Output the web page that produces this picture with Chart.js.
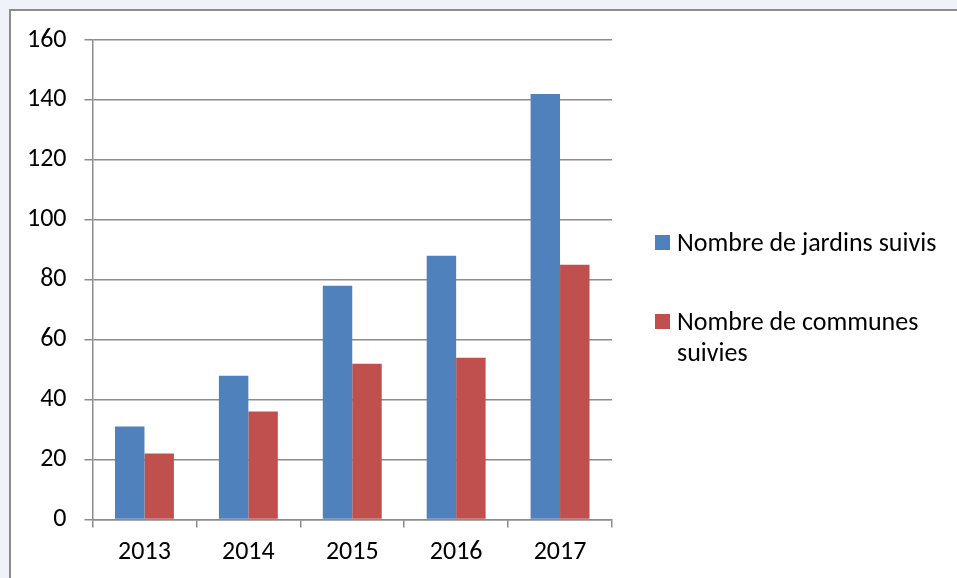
<!DOCTYPE html>
<html>
<head>
<meta charset="utf-8">
<script src="https://cdn.jsdelivr.net/npm/chart.js@4.4.1/dist/chart.umd.min.js"></script>
<style>
  html, body { margin: 0; padding: 0; width: 957px; height: 578px; overflow: hidden; background: #EFF3F9; }
  #frame { position: absolute; left: 9px; top: 9px; width: 960px; height: 580px; border: 2px solid #8c8c8c; background: #fff; }
  #wrap { position: absolute; left: 0; top: 0; width: 957px; height: 578px; }
  #legend { position: absolute; left: 655px; top: 0; font-family: Carlito, Lato, "Open Sans", sans-serif; font-size: 26px; color: #000; }
  .item { position: absolute; left: 0; white-space: nowrap; }
  .sw { position: absolute; left: 0; width: 15px; height: 15px; }
  .txt { position: absolute; left: 22px; line-height: 31px; width: 280px; white-space: normal; }
</style>
</head>
<body>
<div id="frame"></div>
<div id="wrap"><canvas id="c" width="957" height="578"></canvas></div>
<div id="legend"></div>
<script>
const categories = ["2013", "2014", "2015", "2016", "2017"];
const jardins = [31, 48, 78, 88, 142];
const communes = [22, 36, 52, 54, 85];
const seriesLabels = ["Nombre de jardins suivis", "Nombre de communes suivies"];
const seriesColors = ["#4F81BD", "#C0504D"];
const yTicks = [0, 20, 40, 60, 80, 100, 120, 140, 160];

const FONT = { family: "Carlito, Lato, 'Open Sans', sans-serif", size: 26 };
const GRID = "#8c8c8c";

const chart = new Chart(document.getElementById("c"), {
  type: "bar",
  data: {
    labels: categories,
    datasets: [
      { label: seriesLabels[0], data: jardins, backgroundColor: seriesColors[0], borderWidth: 0 },
      { label: seriesLabels[1], data: communes, backgroundColor: seriesColors[1], borderWidth: 0 }
    ]
  },
  options: {
    responsive: false,
    animation: false,
    layout: { padding: { left: 0, top: 40, right: 345, bottom: 0 } },
    plugins: { legend: { display: false }, tooltip: { enabled: false } },
    datasets: { bar: { barPercentage: 1, categoryPercentage: 0.567 } },
    scales: {
      x: {
        grid: { display: true, drawOnChartArea: false, drawTicks: true, tickLength: 8, color: GRID, lineWidth: 1.5, offset: true },
        border: { display: true, color: GRID, width: 1.5 },
        ticks: { color: "#000", font: FONT, padding: 9, maxRotation: 0 },
        afterFit: s => { s.height = 58.5; }
      },
      y: {
        min: 0, max: 160,
        afterBuildTicks: s => { s.ticks = yTicks.map(v => ({ value: v })); },
        grid: { color: GRID, lineWidth: 1.5, drawTicks: true, tickLength: 8 },
        border: { display: true, color: GRID, width: 1.5 },
        ticks: { color: "#000", font: FONT, padding: 18 },
        afterFit: s => { s.width = 92.5; }
      }
    }
  }
});

// HTML legend built from the chart's datasets
const legend = document.getElementById("legend");
const tops = [230, 309];
chart.data.datasets.forEach((ds, i) => {
  const it = document.createElement("div");
  it.className = "item";
  it.style.top = tops[i] + "px";
  const sw = document.createElement("div");
  sw.className = "sw";
  sw.style.background = ds.backgroundColor;
  sw.style.top = "5px";
  const tx = document.createElement("div");
  tx.className = "txt";
  tx.style.top = "-3px";
  tx.style.width = i === 1 ? "255px" : "300px";
  tx.textContent = ds.label;
  it.appendChild(sw);
  it.appendChild(tx);
  legend.appendChild(it);
});
</script>
</body>
</html>
